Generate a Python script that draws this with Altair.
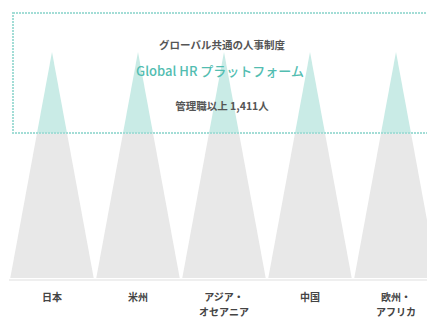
import altair as alt
import pandas as pd

# ---- data ----
regions = ["日本", "米州", "アジア・\nオセアニア", "中国", "欧州・\nアフリカ"]
region_index = [0, 1, 2, 3, 4]
apex_level = [100, 100, 100, 100, 100]   # pyramid height (relative)
split_level = 64                          # level where the shared platform box ends
half_width = 0.485                        # half base width in slot units

title_line1 = "グローバル共通の人事制度"
title_line2 = "Global HR プラットフォーム"
title_line3 = "管理職以上 1,411人"

TEAL_FILL = "#c9ebe6"
GREY_FILL = "#e8e8e8"
TEAL_TEXT = "#52bdb1"
DARK_TEXT = "#444444"
FONT = "Noto Sans CJK JP"

rows = []
for i, name, apex in zip(region_index, regions, apex_level):
    frac = (apex - split_level) / apex
    key_b = f"{i}-base"
    key_t = f"{i}-top"
    rows += [
        dict(key=key_b, part="base", x=i - half_width, y=0, y2=0),
        dict(key=key_b, part="base", x=i - half_width * frac, y=split_level, y2=0),
        dict(key=key_b, part="base", x=i + half_width * frac, y=split_level, y2=0),
        dict(key=key_b, part="base", x=i + half_width, y=0, y2=0),
        dict(key=key_t, part="top", x=i - half_width * frac, y=split_level, y2=split_level),
        dict(key=key_t, part="top", x=i, y=apex, y2=split_level),
        dict(key=key_t, part="top", x=i + half_width * frac, y=split_level, y2=split_level),
    ]
shapes = pd.DataFrame(rows)
labels = pd.DataFrame({"x": region_index, "label": regions})

xscale = alt.Scale(domain=[-0.5, 4.5], range=[9, 439])
yscale = alt.Scale(domain=[0, 100], range=[278, 52])

pyramids = alt.Chart(shapes).mark_area(interpolate="linear").encode(
    x=alt.X("x:Q", scale=xscale, axis=None),
    y=alt.Y("y:Q", scale=yscale, axis=None),
    y2="y2:Q",
    detail="key:N",
    color=alt.Color("part:N", scale=alt.Scale(domain=["base", "top"], range=[GREY_FILL, TEAL_FILL]), legend=None),
)

one = pd.DataFrame({"a": [0]})

baseline = alt.Chart(one).mark_rule(color="#efefef", strokeWidth=2).encode(
    x=alt.value(9), x2=alt.value(427), y=alt.value(280)
)

box = alt.Chart(one).mark_rect(filled=False, color="#a3ddd6", strokeWidth=2, strokeDash=[2, 1]).encode(
    x=alt.value(13), x2=alt.value(450), y=alt.value(13), y2=alt.value(133)
)

t1 = alt.Chart(one).mark_text(font=FONT, fontSize=10.5, fontWeight="bold", color="#555555",
                              align="center", baseline="middle").encode(
    x=alt.value(222), y=alt.value(46), text=alt.value(title_line1))
t2 = alt.Chart(one).mark_text(font=FONT, fontSize=13, fontWeight=500, color=TEAL_TEXT,
                              align="center", baseline="middle").encode(
    x=alt.value(220), y=alt.value(72), text=alt.value(title_line2))
t3 = alt.Chart(one).mark_text(font=FONT, fontSize=10.5, fontWeight="bold", color="#555555",
                              align="center", baseline="middle").encode(
    x=alt.value(222), y=alt.value(107), text=alt.value(title_line3))

region_text = alt.Chart(labels).mark_text(font=FONT, fontSize=10, fontWeight="bold", color=DARK_TEXT,
                                          align="center", baseline="middle", lineBreak="\n",
                                          lineHeight=15).encode(
    x=alt.X("x:Q", scale=xscale, axis=None),
    y=alt.value(298),
    text="label:N",
)

chart = alt.layer(pyramids, baseline, box, t1, t2, t3, region_text).properties(
    width=427, height=320, padding=0, autosize=alt.AutoSizeParams(type="none")
).configure_view(stroke=None)

chart.save("out.html", embed_options={"renderer": "svg", "actions": False})
